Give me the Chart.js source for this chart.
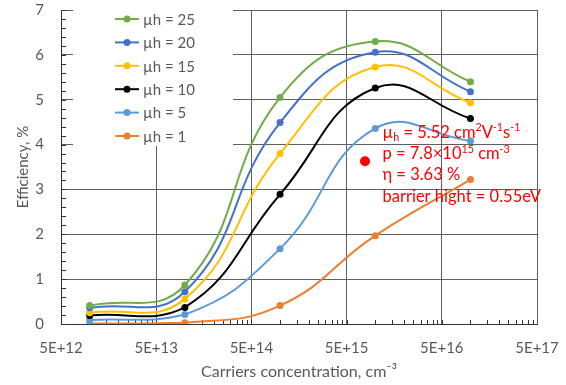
<!DOCTYPE html>
<html>
<head>
<meta charset="utf-8">
<script src="https://cdn.jsdelivr.net/npm/chart.js@4.4.1/dist/chart.umd.min.js"></script>
<style>
    html, body { margin: 0; padding: 0; background: #fff; }
    #caixa { width: 566px; height: 385px; }
</style>
</head>
<body>
<div id="caixa"><canvas id="grafico"></canvas></div>
<script>
// concentração de portadores (cm-3) e eficiência (%) para cada mobilidade
const concentracoes = [1e13, 1e14, 1e15, 1e16, 1e17];
const mu25 = [0.41, 0.87, 5.05, 6.30, 5.40];
const mu20 = [0.36, 0.72, 4.49, 6.06, 5.18];
const mu15 = [0.25, 0.56, 3.80, 5.73, 4.93];
const mu10 = [0.19, 0.37, 2.89, 5.26, 4.58];
const mu5 = [0.09, 0.21, 1.68, 4.36, 4.08];
const mu1 = [0.01, 0.03, 0.41, 1.97, 3.22];

const legendas = ['µh = 25', 'µh = 20', 'µh = 15', 'µh = 10', 'µh = 5', 'µh = 1'];
const cores = ['#70AD47', '#4472C4', '#FFC000', '#000000', '#5B9BD5', '#ED7D31'];

const ticksX = [5e12, 5e13, 5e14, 5e15, 5e16, 5e17];
const rotulosX = ['5E+12', '5E+13', '5E+14', '5E+15', '5E+16', '5E+17'];
const ticksY = [0, 1, 2, 3, 4, 5, 6, 7];

const pontoMedido = { x: 7.8e15, y: 3.63 };

const fonte = 'Lato, "Open Sans", sans-serif';
const corTexto = '#595959';
const corGrade = '#5f5f5f';

const series = [mu25, mu20, mu15, mu10, mu5, mu1];

const conjuntos = series.map((valores, i) => ({
    label: legendas[i],
    data: valores.map((v, j) => ({ x: concentracoes[j], y: v })),
    borderColor: cores[i],
    backgroundColor: cores[i],
    borderWidth: 2,
    pointRadius: 3.5,
    pointBorderWidth: 0,
    tension: 0.45,
}));

conjuntos.push({
    label: 'medido',
    data: [pontoMedido],
    showLine: false,
    borderColor: '#FF0000',
    backgroundColor: '#FF0000',
    pointRadius: 5,
    pointBorderWidth: 0,
});

// textos da anotação em vermelho, com índices e expoentes
const anotacao = [
    [{ t: 'µ' }, { t: 'h', sub: true }, { t: ' = 5.52 cm' }, { t: '2', sup: true }, { t: 'V' }, { t: '-1', sup: true }, { t: 's' }, { t: '-1', sup: true }],
    [{ t: 'p = 7.8×10' }, { t: '15', sup: true }, { t: ' cm' }, { t: '-3', sup: true }],
    [{ t: 'η = 3.63 %' }],
    [{ t: 'barrier hight = 0.55eV' }],
];

function escreveTrechos(ctx, x, y, trechos, tamanho) {
    trechos.forEach((trecho) => {
        const pequeno = trecho.sub || trecho.sup;
        const tam = pequeno ? tamanho * 0.65 : tamanho;
        ctx.font = `${tam}px ${fonte}`;
        let dy = 0;
        if (trecho.sup) dy = -tamanho * 0.38;
        if (trecho.sub) dy = tamanho * 0.22;
        ctx.fillText(trecho.t, x, y + dy);
        x += ctx.measureText(trecho.t).width;
    });
}

function semFolga(escala) {
    escala.paddingLeft = 0;
    escala.paddingRight = 0;
    escala.paddingTop = 0;
    escala.paddingBottom = 0;
}

const detalhes = {
    id: 'detalhes',
    beforeDatasetsDraw(grafico) {
        const ctx = grafico.ctx;
        const area = grafico.chartArea;
        const x = grafico.scales.x;
        const y = grafico.scales.y;

        ctx.save();
        // fundo branco da legenda por cima da grade
        ctx.fillStyle = '#fff';
        ctx.fillRect(area.left + 12, area.top - 1, 233 - area.left - 12, 147 - area.top);

        // marcas menores para dentro
        ctx.strokeStyle = '#333';
        ctx.lineWidth = 1;
        ctx.beginPath();
        for (let i = 0; i < ticksX.length - 1; i++) {
            for (let k = 1; k <= 9; k++) {
                const px = Math.round(x.getPixelForValue(ticksX[i] * k)) + 0.5;
                ctx.moveTo(px, area.bottom);
                ctx.lineTo(px, area.bottom - 4);
            }
        }
        for (let v = 0; v <= 35; v++) {
            const py = Math.round(y.getPixelForValue(v / 5)) + 0.5;
            ctx.moveTo(area.left, py);
            ctx.lineTo(area.left + 5, py);
        }
        ctx.stroke();
        ctx.restore();
    },
    afterDatasetsDraw(grafico) {
        const ctx = grafico.ctx;
        const area = grafico.chartArea;

        ctx.save();
        // legenda
        ctx.textBaseline = 'middle';
        ctx.textAlign = 'left';
        legendas.forEach((texto, i) => {
            const cy = area.top + 9 + i * 23.4;
            const x0 = area.left + 54;
            ctx.strokeStyle = cores[i];
            ctx.lineWidth = 2;
            ctx.beginPath();
            ctx.moveTo(x0, cy);
            ctx.lineTo(x0 + 24, cy);
            ctx.stroke();
            ctx.fillStyle = cores[i];
            ctx.beginPath();
            ctx.arc(x0 + 12, cy, 3.5, 0, Math.PI * 2);
            ctx.fill();
            ctx.fillStyle = corTexto;
            ctx.font = `15px ${fonte}`;
            ctx.fillText(texto, x0 + 28, cy + 1);
        });

        // anotação ao lado do ponto medido
        const px = grafico.scales.x.getPixelForValue(pontoMedido.x);
        const py = grafico.scales.y.getPixelForValue(pontoMedido.y);
        ctx.fillStyle = '#FF0000';
        ctx.textBaseline = 'alphabetic';
        anotacao.forEach((linha, i) => {
            escreveTrechos(ctx, px + 17.5, py - 23.5 + i * 21.4, linha, 16.5);
        });
        ctx.restore();
    },
};

const grafico = new Chart(document.getElementById('grafico'), {
    type: 'line',
    data: { datasets: conjuntos },
    plugins: [detalhes],
    options: {
        responsive: true,
        maintainAspectRatio: false,
        animation: false,
        layout: { padding: { left: 0, right: 29, top: 10, bottom: 0 } },
        plugins: {
            legend: { display: false },
            tooltip: { enabled: false },
        },
        scales: {
            x: {
                type: 'logarithmic',
                min: 5e12,
                max: 5e17,
                afterBuildTicks: (escala) => {
                    escala.ticks = ticksX.map((v) => ({ value: v }));
                },
                afterFit: (escala) => {
                    escala.height = 61;
                    semFolga(escala);
                },
                ticks: {
                    autoSkip: false,
                    maxRotation: 0,
                    padding: 15,
                    color: corTexto,
                    font: { family: fonte, size: 15 },
                    callback: (valor, i) => rotulosX[i],
                },
                grid: { color: corGrade, drawTicks: false },
                border: { color: '#333' },
                title: {
                    display: true,
                    text: 'Carriers concentration, cm⁻³',
                    color: corTexto,
                    font: { family: fonte, size: 16 },
                    padding: { top: 0, bottom: 4 },
                },
            },
            y: {
                min: 0,
                max: 7,
                afterBuildTicks: (escala) => {
                    escala.ticks = ticksY.map((v) => ({ value: v }));
                },
                afterFit: (escala) => {
                    escala.width = 61;
                    semFolga(escala);
                },
                ticks: {
                    padding: 17,
                    color: corTexto,
                    font: { family: fonte, size: 15 },
                },
                grid: { color: corGrade, drawTicks: false },
                border: { color: '#333' },
                title: {
                    display: true,
                    text: 'Efficiency, %',
                    color: corTexto,
                    font: { family: fonte, size: 15 },
                    padding: { top: 14, bottom: 0 },
                },
            },
        },
    },
});
</script>
</body>
</html>
